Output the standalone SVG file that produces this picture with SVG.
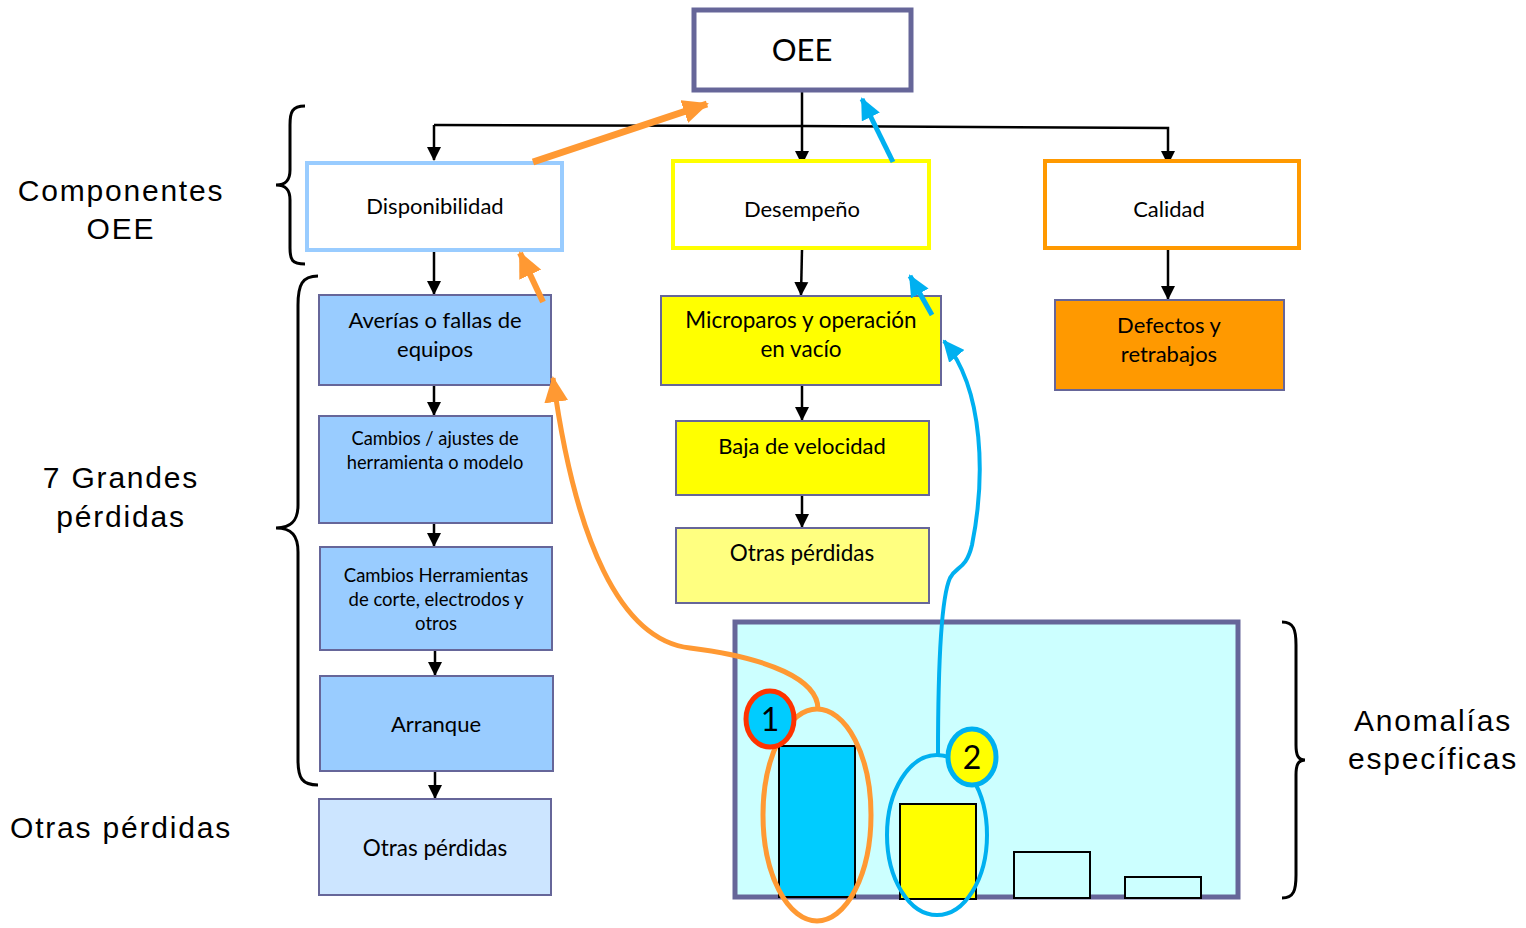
<svg xmlns="http://www.w3.org/2000/svg" width="1526" height="928" viewBox="0 0 1526 928">
<style>
.t{font-family:Lato,"Open Sans",sans-serif;fill:#000;text-anchor:middle}
.lbl{font-family:"Liberation Sans",Arial,sans-serif;font-size:30px;fill:#000;text-anchor:middle;letter-spacing:1.8px}
.box{stroke:#666699;stroke-width:2}
.k{stroke:#000;stroke-width:2.5;fill:none}
.brace{stroke:#000;stroke-width:3;fill:none}
</style>
<defs>
<marker id="ak" markerUnits="userSpaceOnUse" markerWidth="14" markerHeight="16" refX="13" refY="7" orient="auto" viewBox="0 0 14 14"><path d="M0,0 L14,7 L0,14 z" fill="#000"/></marker>
<marker id="ao" markerUnits="userSpaceOnUse" markerWidth="26" markerHeight="24" refX="24" refY="12" orient="auto" viewBox="0 0 26 24"><path d="M0,0 L26,12 L0,24 z" fill="#ff9933"/></marker>
<marker id="ab" markerUnits="userSpaceOnUse" markerWidth="22" markerHeight="20" refX="20" refY="10" orient="auto" viewBox="0 0 22 20"><path d="M0,0 L22,10 L0,20 z" fill="#00b0f0"/></marker>
</defs>
<rect width="1526" height="928" fill="#fff"/>

<g id="labels">
<text class="lbl" x="121" y="201">Componentes</text>
<text class="lbl" x="121" y="239">OEE</text>
<text class="lbl" x="121" y="488">7 Grandes</text>
<text class="lbl" x="121" y="527">pérdidas</text>
<text class="lbl" x="121" y="838">Otras pérdidas</text>
<text class="lbl" x="1433" y="731">Anomalías</text>
<text class="lbl" x="1433" y="769">específicas</text>
</g>

<g id="braces">
<path class="brace" d="M305,106 C292,106 290,112 290,125 L290,170 C290,180 286,185 276,185 C286,185 290,190 290,200 L290,248 C290,260 292,264 305,264"/>
<path class="brace" d="M318,276 C302,276 298,285 298,305 L298,505 C298,520 292,528 276,528 C292,528 298,536 298,552 L298,760 C298,778 302,785 318,785"/>
<path class="brace" d="M1282,622 C1294,622 1296,630 1296,645 L1296,745 C1296,755 1298,760 1305,760 C1298,760 1296,765 1296,775 L1296,875 C1296,890 1294,898 1282,898"/>
</g>

<g id="connectors">
<path class="k" d="M802,91 L802,164" marker-end="url(#ak)"/>
<path class="k" d="M434,125 L802,126 L1168,128 L1168,164" marker-end="url(#ak)"/>
<path class="k" d="M434,125 L434,160" marker-end="url(#ak)"/>
<path class="k" d="M434,252 L434,294" marker-end="url(#ak)"/>
<path class="k" d="M434,386 L434,415" marker-end="url(#ak)"/>
<path class="k" d="M434,519 L434,546" marker-end="url(#ak)"/>
<path class="k" d="M435,651 L435,675" marker-end="url(#ak)"/>
<path class="k" d="M435,772 L435,798" marker-end="url(#ak)"/>
<path class="k" d="M802,250 L801,295" marker-end="url(#ak)"/>
<path class="k" d="M802,386 L802,420" marker-end="url(#ak)"/>
<path class="k" d="M802,496 L802,527" marker-end="url(#ak)"/>
<path class="k" d="M1168,250 L1168,299" marker-end="url(#ak)"/>
</g>

<g id="oee"><rect x="694" y="10" width="217" height="80" fill="#fff" stroke="#666699" stroke-width="5"/><text class="t" x="802" y="61" font-size="31">OEE</text></g>
<g id="disponibilidad"><rect x="307" y="163" width="255" height="87" fill="#fff" stroke="#99ccff" stroke-width="4"/><text class="t" x="435" y="214" font-size="22">Disponibilidad</text></g>
<g id="desempeno"><rect x="673" y="161" width="256" height="87" fill="#fff" stroke="#ffff00" stroke-width="4"/><text class="t" x="802" y="217" font-size="22">Desempeño</text></g>
<g id="calidad"><rect x="1045" y="161" width="254" height="87" fill="#fff" stroke="#ff9900" stroke-width="4"/><text class="t" x="1169" y="217" font-size="22">Calidad</text></g>

<g id="averias"><rect class="box" x="319" y="295" width="232" height="90" fill="#99ccff"/><text class="t" x="435" y="328" font-size="22">Averías o fallas de</text><text class="t" x="435" y="357" font-size="22">equipos</text></g>
<g id="cambios1"><rect class="box" x="319" y="416" width="233" height="107" fill="#99ccff"/><text class="t" x="435" y="445" font-size="18.3">Cambios / ajustes de</text><text class="t" x="435" y="469" font-size="18.3">herramienta o modelo</text></g>
<g id="cambios2"><rect class="box" x="320" y="547" width="232" height="103" fill="#99ccff"/><text class="t" x="436" y="582" font-size="18.5">Cambios Herramientas</text><text class="t" x="436" y="606" font-size="18.5">de corte, electrodos y</text><text class="t" x="436" y="630" font-size="18.5">otros</text></g>
<g id="arranque"><rect class="box" x="320" y="676" width="233" height="95" fill="#99ccff"/><text class="t" x="436" y="732" font-size="22">Arranque</text></g>
<g id="otras1"><rect class="box" x="319" y="799" width="232" height="96" fill="#cce5ff"/><text class="t" x="435" y="856" font-size="22.5">Otras pérdidas</text></g>

<g id="microparos"><rect class="box" x="661" y="296" width="280" height="89" fill="#ffff00"/><text class="t" x="801" y="328" font-size="22.5">Microparos y operación</text><text class="t" x="801" y="357" font-size="22.5">en vacío</text></g>
<g id="baja"><rect class="box" x="676" y="421" width="253" height="74" fill="#ffff00"/><text class="t" x="802" y="454" font-size="22">Baja de velocidad</text></g>
<g id="otras2"><rect class="box" x="676" y="528" width="253" height="75" fill="#ffff80"/><text class="t" x="802" y="561" font-size="22.5">Otras pérdidas</text></g>
<g id="defectos"><rect class="box" x="1055" y="300" width="229" height="90" fill="#ff9900"/><text class="t" x="1169" y="333" font-size="22">Defectos y</text><text class="t" x="1169" y="362" font-size="22">retrabajos</text></g>

<g id="anomalias">
<rect x="735" y="622" width="503" height="275" fill="#ccffff" stroke="#666699" stroke-width="5"/>
<rect x="779" y="746" width="76" height="151" fill="#00ccff" stroke="#000" stroke-width="2"/>
<rect x="900" y="804" width="76" height="95" fill="#ffff00" stroke="#000" stroke-width="2"/>
<rect x="1014" y="852" width="76" height="46" fill="#ccffff" stroke="#000" stroke-width="2"/>
<rect x="1125" y="877" width="76" height="21" fill="#ccffff" stroke="#000" stroke-width="2"/>
</g>

<g id="highlights">
<ellipse cx="817" cy="815" rx="54" ry="106" fill="none" stroke="#ff9933" stroke-width="5"/>
<ellipse cx="937" cy="835" rx="50" ry="80" fill="none" stroke="#00b0f0" stroke-width="4"/>
</g>

<g id="feedback">
<path d="M818,709 C818,680 770,658 690,648 C620,640 575,540 553,378" fill="none" stroke="#ff9933" stroke-width="5" marker-end="url(#ao)"/>
<path d="M533,162 L707,104" fill="none" stroke="#ff9933" stroke-width="7" marker-end="url(#ao)"/>
<path d="M543,302 L520,253" fill="none" stroke="#ff9933" stroke-width="6" marker-end="url(#ao)"/>
<path d="M938,755 C938,680 940,600 950,578 C956,566 966,570 972,545 C985,480 985,390 944,341" fill="none" stroke="#00b0f0" stroke-width="4" marker-end="url(#ab)"/>
<path d="M893,162 L862,99" fill="none" stroke="#00b0f0" stroke-width="5" marker-end="url(#ab)"/>
<path d="M932,315 L910,276" fill="none" stroke="#00b0f0" stroke-width="5" marker-end="url(#ab)"/>
</g>

<g id="badge1"><ellipse cx="770" cy="719" rx="24" ry="28" fill="#00ccff" stroke="#ff3300" stroke-width="5"/><text class="t" x="770" y="731" font-size="32">1</text></g>
<g id="badge2"><ellipse cx="972" cy="757" rx="24" ry="28" fill="#ffff00" stroke="#00b0f0" stroke-width="5"/><text class="t" x="972" y="769" font-size="32">2</text></g>
</svg>
